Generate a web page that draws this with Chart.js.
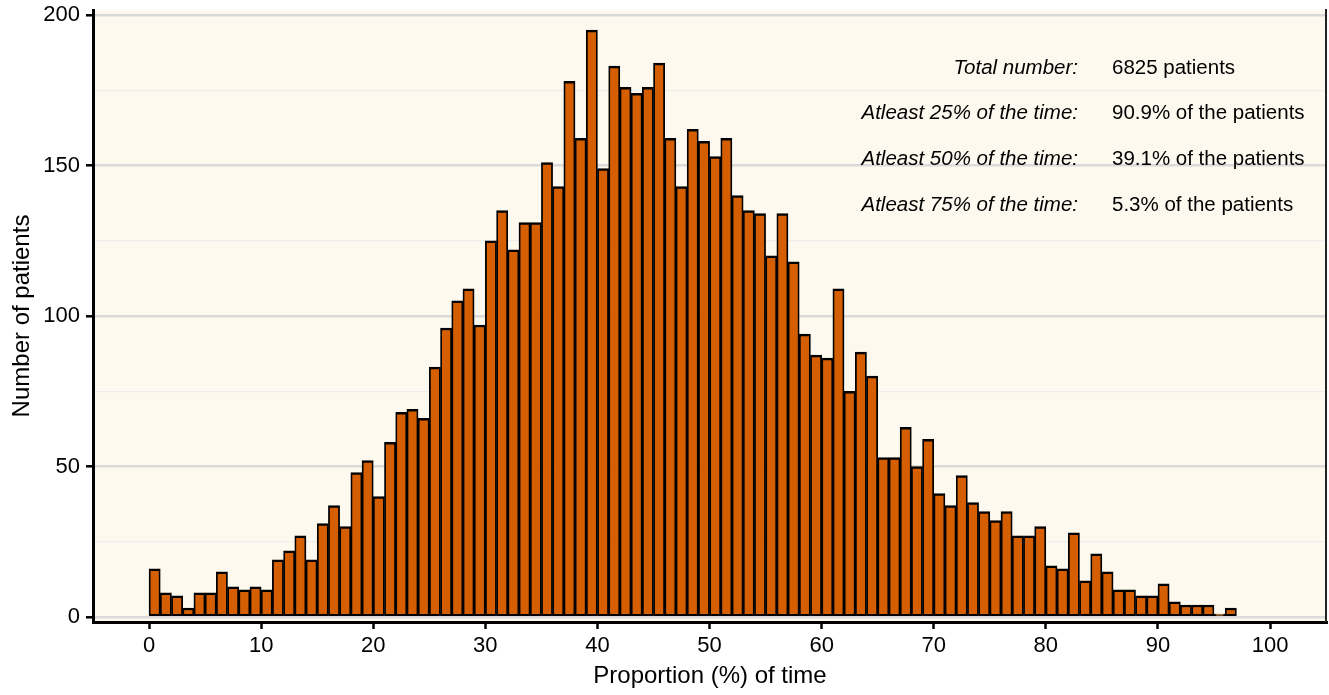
<!DOCTYPE html>
<html>
<head>
<meta charset="utf-8">
<script src="https://cdn.jsdelivr.net/npm/chart.js@4.4.1/dist/chart.umd.min.js"></script>
<style>
  html, body { margin: 0; padding: 0; background: #ffffff; }
  #wrap { width: 1329px; height: 695px; }
</style>
</head>
<body>
<div id="wrap"><canvas id="hist" width="1329" height="695"></canvas></div>
<script>
// Histogram bins: left edge of each 1%-wide bin
const binStart = [
  0, 1, 2, 3, 4, 5, 6, 7, 8, 9, 10, 11, 12, 13, 14, 15, 16, 17, 18, 19,
  20, 21, 22, 23, 24, 25, 26, 27, 28, 29, 30, 31, 32, 33, 34, 35, 36, 37, 38, 39,
  40, 41, 42, 43, 44, 45, 46, 47, 48, 49, 50, 51, 52, 53, 54, 55, 56, 57, 58, 59,
  60, 61, 62, 63, 64, 65, 66, 67, 68, 69, 70, 71, 72, 73, 74, 75, 76, 77, 78, 79,
  80, 81, 82, 83, 84, 85, 86, 87, 88, 89, 90, 91, 92, 93, 94, 95, 96, 97, 98, 99
];
const binWidth = 1;

// Number of patients per bin
const patientCounts = [
  16, 8, 7, 3, 8, 8, 15, 10, 9, 10,
  9, 19, 22, 27, 19, 31, 37, 30, 48, 52,
  40, 58, 68, 69, 66, 83, 96, 105, 109, 97,
  125, 135, 122, 131, 131, 151, 143, 178, 159, 195,
  149, 183, 176, 174, 176, 184, 159, 143, 162, 158,
  153, 159, 140, 135, 134, 120, 134, 118, 94, 87,
  86, 109, 75, 88, 80, 53, 53, 63, 50, 59,
  41, 37, 47, 38, 35, 32, 35, 27, 27, 30,
  17, 16, 28, 12, 21, 15, 9, 9, 7, 7,
  11, 5, 4, 4, 4, 1, 3, 0, 0, 0
];

// Axis ticks
const xTicks = [0, 10, 20, 30, 40, 50, 60, 70, 80, 90, 100];
const yTicks = [0, 25, 50, 75, 100, 125, 150, 175, 200];
const yLabelled = [0, 50, 100, 150, 200];

// Summary table shown in the upper right of the panel
const statLabels = ['Total number:', 'Atleast 25% of the time:', 'Atleast 50% of the time:', 'Atleast 75% of the time:'];
const statValues = ['6825 patients', '90.9% of the patients', '39.1% of the patients', '5.3% of the patients'];

const FONT = "'Liberation Sans', Arial, Helvetica, sans-serif";
const PANEL_BG = '#fdf9ef';
const BAR_FILL = '#d55e00';

const points = binStart.map((s, i) => ({ x: s + binWidth / 2, y: patientCounts[i] }));

const panelPlugin = {
  id: 'panel',
  beforeDraw(chart) {
    const { ctx, chartArea: a } = chart;
    ctx.save();
    ctx.fillStyle = '#ffffff';
    ctx.fillRect(0, 0, chart.width, chart.height);
    ctx.fillStyle = PANEL_BG;
    ctx.fillRect(a.left, a.top, a.right - a.left, a.bottom - a.top);
    ctx.restore();
  },
  afterDraw(chart) {
    const { ctx, chartArea: a } = chart;
    ctx.save();
    // right edge of the panel
    ctx.strokeStyle = '#222222';
    ctx.lineWidth = 2;
    ctx.beginPath();
    ctx.moveTo(a.right - 1, a.top - 1);
    ctx.lineTo(a.right - 1, a.bottom);
    ctx.stroke();
    // summary table
    ctx.fillStyle = '#000000';
    ctx.textBaseline = 'middle';
    const labelX = a.right - 249;
    const valueX = a.right - 215;
    statLabels.forEach((lab, i) => {
      const y = a.top + 58 + i * 45.7;
      ctx.font = 'italic 20.5px ' + FONT;
      ctx.textAlign = 'right';
      ctx.fillText(lab, labelX, y);
      ctx.font = '20.5px ' + FONT;
      ctx.textAlign = 'left';
      ctx.fillText(statValues[i], valueX, y);
    });
    ctx.restore();
  }
};

new Chart(document.getElementById('hist'), {
  type: 'bar',
  data: {
    datasets: [{
      data: points,
      backgroundColor: BAR_FILL,
      borderColor: '#000000',
      borderWidth: { top: 2.5, left: 1.8, right: 1.8, bottom: 2 },
      borderSkipped: false,
      barPercentage: 1,
      categoryPercentage: 1
    }]
  },
  options: {
    responsive: false,
    devicePixelRatio: 1,
    animation: false,
    layout: { padding: { top: 10, right: 2, left: 0, bottom: 0 } },
    plugins: { legend: { display: false }, tooltip: { enabled: false } },
    scales: {
      x: {
        type: 'linear',
        offset: false,
        min: -5,
        max: 105.08,
        afterBuildTicks(scale) { scale.ticks = xTicks.map(v => ({ value: v })); },
        afterFit(scale) {
          scale.height = 73;
          scale.paddingLeft = 0;
          scale.paddingRight = 0;
        },
        border: { display: true, color: '#000000', width: 3 },
        grid: {
          offset: false,
          drawOnChartArea: false,
          drawTicks: true,
          tickLength: 7,
          tickColor: '#000000',
          tickWidth: 2.5
        },
        ticks: {
          color: '#000000',
          font: { family: FONT, size: 22 },
          padding: 4,
          maxRotation: 0,
          autoSkip: false
        },
        title: {
          display: true,
          text: 'Proportion (%) of time',
          color: '#000000',
          font: { family: FONT, size: 24, lineHeight: 1 },
          padding: { top: 0, bottom: 7 }
        }
      },
      y: {
        type: 'linear',
        min: -1.66,
        max: 201.66,
        afterBuildTicks(scale) { scale.ticks = yTicks.map(v => ({ value: v })); },
        afterFit(scale) {
          scale.width = 93;
          scale.paddingTop = 0;
          scale.paddingBottom = 0;
        },
        border: { display: true, color: '#000000', width: 3 },
        grid: {
          drawOnChartArea: true,
          drawTicks: true,
          tickLength: 7,
          color: c => (yLabelled.includes(c.tick.value) ? '#dadada' : '#ededed'),
          lineWidth: c => (yLabelled.includes(c.tick.value) ? 2.6 : 1.2),
          tickColor: c => (yLabelled.includes(c.tick.value) ? '#000000' : 'rgba(0,0,0,0)'),
          tickWidth: 2.5
        },
        ticks: {
          color: '#000000',
          font: { family: FONT, size: 22 },
          padding: 6,
          autoSkip: false,
          callback: v => (yLabelled.includes(v) ? String(v) : '')
        },
        title: {
          display: true,
          text: 'Number of patients',
          color: '#000000',
          font: { family: FONT, size: 24, lineHeight: 1 },
          padding: { top: 10, bottom: 0 }
        }
      }
    }
  },
  plugins: [panelPlugin]
});
</script>
</body>
</html>
